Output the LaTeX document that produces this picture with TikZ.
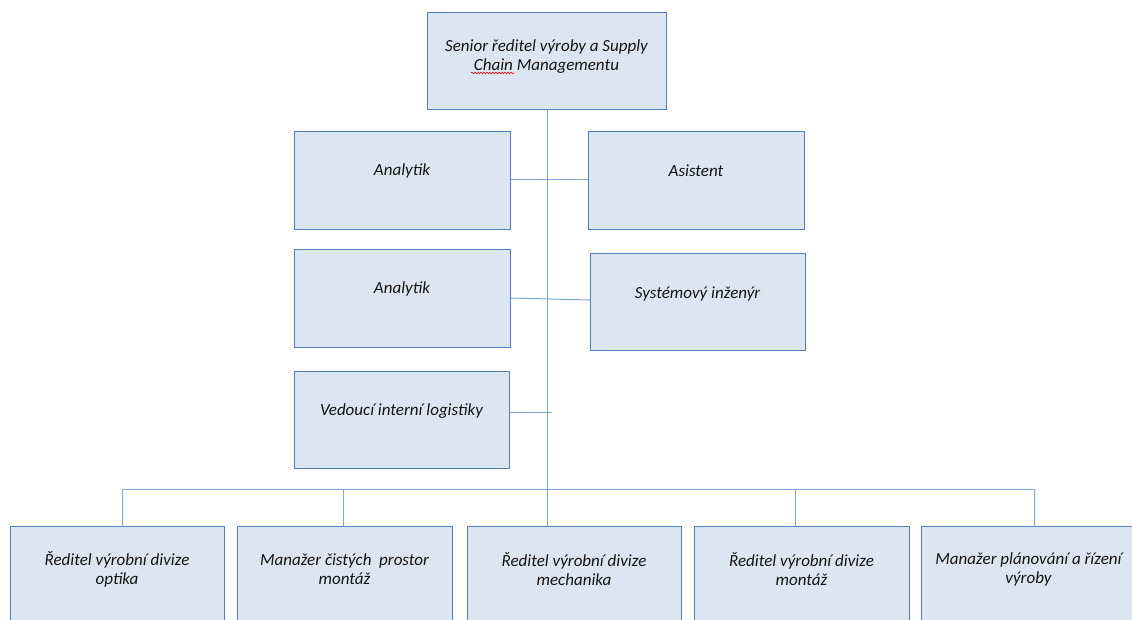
\documentclass[tikz,border=0pt]{standalone}
\usepackage{fontspec}
\setmainfont{Carlito}
\usetikzlibrary{calc,decorations.pathmorphing}
\definecolor{boxfill}{RGB}{220,230,242}
\definecolor{boxline}{RGB}{79,129,189}
\definecolor{wirecol}{RGB}{125,167,217}
\definecolor{ink}{RGB}{20,20,20}
\begin{document}
\begin{tikzpicture}[x=1pt,y=-1pt,
  box/.style={draw=boxline, fill=boxfill, line width=1pt, inner sep=0pt, anchor=north west},
  lbl/.style={font=\fontsize{17}{19}\selectfont\itshape, text=ink, align=center, inner sep=0pt},
  wire/.style={draw=wirecol, line width=1pt}]
\useasboundingbox (0,0) rectangle (1132,619);
\clip (0,0) rectangle (1132,619);

% top position
\node[box, minimum width=239pt, minimum height=97pt] (top) at (427,12) {};
\node[lbl] (ttop) at (546.5,56.5) {Senior ředitel výroby a Supply\\Chain Managementu};
\draw[red, line width=0.6pt, decorate, decoration={snake, amplitude=0.8pt, segment length=3pt}] (471,73) -- (514,73);

% staff positions
\node[box, minimum width=216pt, minimum height=98pt] (an1) at (294,131) {};
\node[lbl] (tan1) at (402,171) {Analytik};
\node[box, minimum width=216pt, minimum height=98pt] (asi) at (588,131) {};
\node[lbl] (tasi) at (696,171) {Asistent};
\node[box, minimum width=216pt, minimum height=98pt] (an2) at (294,249) {};
\node[lbl] (tan2) at (402,289) {Analytik};
\node[box, minimum width=215pt, minimum height=97pt] (sys) at (590,253) {};
\node[lbl] (tsys) at (697.5,294) {Systémový inženýr};
\node[box, minimum width=215pt, minimum height=97pt] (ved) at (294,371) {};
\node[lbl] (tved) at (401.5,411) {Vedoucí interní logistiky};

% line managers
\node[box, minimum width=214pt, minimum height=98pt] (b1) at (10,526) {};
\node[lbl] (tb1) at (117,569.5) {Ředitel výrobní divize\\optika};
\node[box, minimum width=215pt, minimum height=98pt] (b2) at (237,526) {};
\node[lbl] (tb2) at (344.5,569.5) {Manažer čistých~ prostor\\montáž};
\node[box, minimum width=214pt, minimum height=98pt] (b3) at (467,526) {};
\node[lbl] (tb3) at (574,569.5) {Ředitel výrobní divize\\mechanika};
\node[box, minimum width=215pt, minimum height=98pt] (b4) at (694,526) {};
\node[lbl] (tb4) at (801.5,569.5) {Ředitel výrobní divize\\montáž};
\node[box, minimum width=215pt, minimum height=98pt] (b5) at (921,526) {};
\node[lbl] (tb5) at (1028.5,569.5) {Manažer plánování a řízení\\výroby};

% connectors
\draw[wire] (top.south) -- (top.south |- b3.north);
\draw[wire] (an1.east |- 0,179) -- (asi.west |- 0,179);
\draw[wire] (an2.east |- 0,298) -- (sys.west |- 0,300);
\coordinate (vstub) at (552,412);
\draw[wire] (ved.east |- vstub) -- (vstub);

\coordinate (d1) at (122,489);
\coordinate (d2) at (343,489);
\coordinate (d4) at (795,489);
\coordinate (d5) at (1034,489);
\draw[wire] (d1) -- (d5);
\draw[wire] (d1) -- (d1 |- b1.north);
\draw[wire] (d2) -- (d2 |- b2.north);
\draw[wire] (d4) -- (d4 |- b4.north);
\draw[wire] (d5) -- (d5 |- b5.north);
\end{tikzpicture}
\end{document}
